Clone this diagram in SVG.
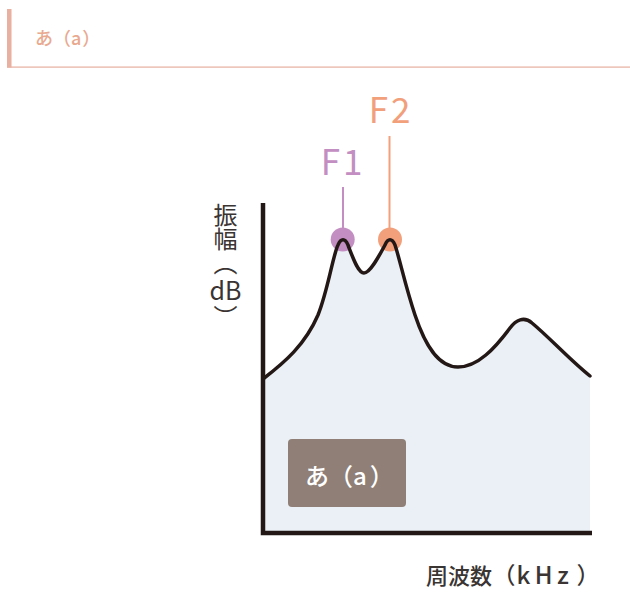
<svg xmlns="http://www.w3.org/2000/svg" width="630" height="608" viewBox="0 0 630 608">
<style>
text{font-family:"Noto Sans CJK JP","Noto Sans",sans-serif;}
.dark{fill:#3a3433;}
.vert{writing-mode:vertical-rl;}
.curve{fill:none;stroke:#231815;stroke-width:3.5;stroke-linejoin:round;stroke-linecap:round;}
.axis{fill:none;stroke:#231815;stroke-width:4.5;}
</style>
<rect width="630" height="608" fill="#ffffff"/>
<g id="header">
<rect x="7" y="9" width="4.5" height="58.5" fill="#e7b0a0"/>
<rect x="7" y="66.5" width="623" height="1.2" fill="#e7b0a0"/>
<text x="35" y="45" font-size="18" fill="#e9a98f" font-weight="500">あ（a<tspan dx="1">）</tspan></text>
</g>
<g id="area">
<path d="M263,379 C285,362 305,345 318,315 C328,290 333,255 338,245 C341,238 345,238 348,245 C353,258 358,273 364,273 C370,273 378,258 385,245 C388,238 392,238 395,245 C400,260 405,285 415,315 C425,345 438,367 458,367 C478,367 495,348 510,328 C516,320 524,316 532,323 C550,338 570,360 590,376 L590,533 L263,533 Z" fill="#eaf0f5"/>
</g>
<g id="f1">
<line x1="343" y1="187" x2="343" y2="240" stroke="#c38fc2" stroke-width="2"/>
<circle cx="342.7" cy="239.5" r="12" fill="#c38fc2"/>
<text x="343" y="175" font-size="35" fill="#c38fc2" text-anchor="middle" letter-spacing="3">F1</text>
</g>
<g id="f2">
<line x1="389.5" y1="136" x2="389.5" y2="240" stroke="#f2a07c" stroke-width="2"/>
<circle cx="390" cy="239.5" r="12" fill="#f2a07c"/>
<text x="391" y="123" font-size="35" fill="#f2a07c" text-anchor="middle" letter-spacing="3">F2</text>
</g>
<g id="connectors">
<path class="curve" d="M263,379 C285,362 305,345 318,315 C328,290 333,255 338,245 C341,238 345,238 348,245 C353,258 358,273 364,273 C370,273 378,258 385,245 C388,238 392,238 395,245 C400,260 405,285 415,315 C425,345 438,367 458,367 C478,367 495,348 510,328 C516,320 524,316 532,323 C550,338 570,360 590,376"/>
<path class="axis" d="M263,203 L263,533 L592,533"/>
</g>
<g id="y-label">
<text class="dark vert" x="225.5" y="203" font-size="24">振幅（</text>
<text class="dark" x="225.5" y="300" font-size="25" text-anchor="middle">dB</text>
<text class="dark vert" x="225.5" y="305" font-size="24">）</text>
</g>
<g id="x-label">
<text class="dark" y="584" font-size="22" font-weight="500"><tspan x="426">周波数</tspan><tspan x="492.5" font-size="23">（</tspan><tspan x="516.5" font-size="24" letter-spacing="4.5">kHz</tspan><tspan x="576.5" font-size="23">）</tspan></text>
</g>
<g id="label-box">
<rect x="288" y="439" width="118" height="68" rx="4" fill="#8f7f77"/>
<text x="305" y="485" font-size="24" fill="#ffffff" font-weight="500">あ（a<tspan dx="3">）</tspan></text>
</g>
</svg>
